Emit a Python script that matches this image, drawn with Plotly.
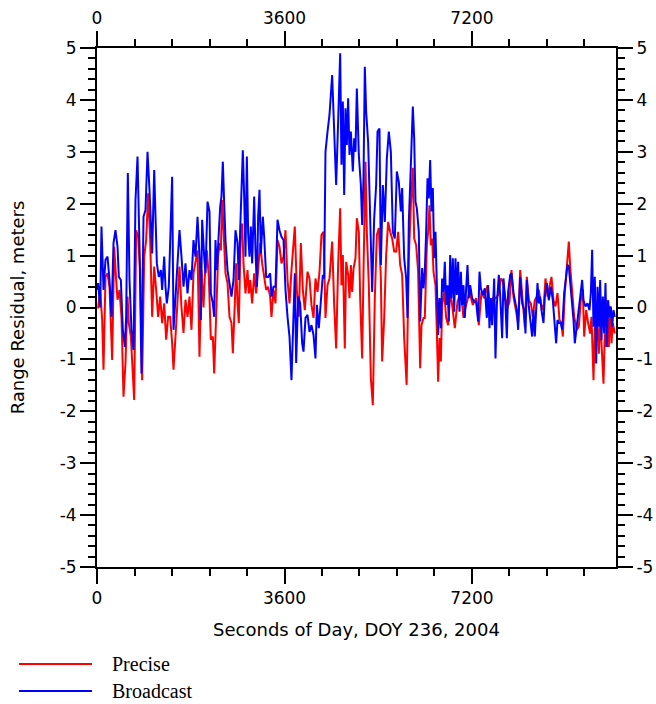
import plotly.graph_objects as go

# ---------------- data (seconds of day, range residual in meters) ----------------
precise_t = [5, 22, 61, 99, 125, 163, 202, 240, 291, 330, 368, 394, 432, 470, 509, 547, 586, 611, 650, 688,
             714, 752, 790, 829, 867, 906, 944, 982, 1021, 1059, 1098, 1136, 1174, 1213, 1251, 1290, 1328,
             1366, 1405, 1443, 1469, 1507, 1546, 1584, 1622, 1661, 1699, 1738, 1776, 1814, 1853, 1891, 1930,
             1968, 2006, 2045, 2070, 2109, 2147, 2186, 2224, 2250, 2288, 2326, 2352, 2378, 2403, 2429, 2467,
             2506, 2544, 2582, 2608, 2646, 2672, 2698, 2723, 2762, 2787, 2813, 2851, 2890, 2915, 2941, 2979,
             3018, 3056, 3094, 3133, 3171, 3210, 3248, 3286, 3325, 3350, 3389, 3427, 3466, 3504, 3542, 3581,
             3619, 3658, 3696, 3734, 3773, 3798, 3837, 3875, 3914, 3952, 3990, 4042, 4080, 4118, 4157, 4195,
             4234, 4272, 4310, 4349, 4387, 4426, 4464, 4515, 4554, 4592, 4630, 4669, 4694, 4720, 4758, 4784,
             4822, 4848, 4874, 4899, 4925, 4963, 4989, 5027, 5053, 5091, 5117, 5155, 5181, 5219, 5258, 5296,
             5334, 5373, 5411, 5450, 5475, 5514, 5552, 5590, 5629, 5667, 5706, 5744, 5782, 5821, 5859, 5898,
             5945, 5987, 6026, 6064, 6090, 6128, 6166, 6205, 6230, 6269, 6294, 6333, 6358, 6384, 6410, 6435,
             6461, 6499, 6525, 6550, 6576, 6602, 6627, 6666, 6704, 6742, 6781, 6819, 6870, 6922, 6986, 7037,
             7088, 7152, 7216, 7280, 7331, 7382, 7434, 7498, 7549, 7600, 7651, 7702, 7754, 7792, 7843, 7882,
             7920, 7958, 7997, 8035, 8086, 8125, 8163, 8214, 8253, 8291, 8330, 8368, 8406, 8445, 8483, 8522,
             8573, 8611, 8650, 8688, 8726, 8765, 8803, 8842, 8880, 8918, 8944, 8982, 9021, 9059, 9085, 9123,
             9162, 9213, 9251, 9290, 9328, 9354, 9392, 9430, 9469, 9494, 9533, 9558, 9584, 9610, 9635, 9661,
             9686, 9725, 9750, 9776, 9802, 9827, 9853, 9878, 9904, 9942]
precise_v = [0.0, 0.0, 0.34, -0.24, -1.2, 0.59, 0.66, 0.4, -1.01, 1.17, 0.53, 0.15, 0.34, -0.18, -1.72, -1.07,
             0.21, -0.3, -0.56, -1.33, -1.78, 1.49, 1.36, 0.72, -1.4, 0.98, 1.3, 2.2, 1.3, -0.18, 0.79, 0.34,
             -0.18, 0.21, -0.3, 0.08, -0.62, -0.18, -0.18, -0.69, -1.2, -0.56, 0.08, 0.79, 0.0, -0.49, 0.15,
             -0.18, 0.21, -0.43, 0.66, 0.92, 1.1, -0.95, 0.72, 0.0, 0.59, 1.1, 0.59, -0.62, -0.56, -1.27, -0.11,
             0.98, 1.24, 1.1, 2.07, 1.49, 0.66, 0.47, -0.18, -0.3, -0.88, 0.08, 0.85, 0.08, -0.3, 1.49, 1.62,
             0.85, 0.27, 0.72, 0.27, 0.53, 0.08, 0.66, 0.27, 0.72, 1.24, 0.85, 0.59, 0.34, 0.4, 0.21, -0.18, 0.34,
             0.08, 1.3, 1.17, 0.85, 0.98, 1.49, 0.53, 0.08, 0.72, 1.17, 1.56, 0.34, -0.18, 1.24, 0.34, -0.05,
             0.69, 0.56, 0.05, -0.2, 0.56, 0.3, 0.69, 1.4, 1.46, -0.2, 0.43, 0.56, 1.27, 0.05, -0.79, 0.82, 1.91,
             0.43, 1.01, -0.79, 0.88, 0.63, 0.18, 0.82, 0.3, 0.75, 0.95, 1.72, 1.46, 0.18, -0.98, 0.69, 2.81,
             1.46, 0.43, -1.36, -1.88, 0.18, 1.4, 1.53, 0.56, -1.04, -0.2, 1.01, 1.65, 1.46, 1.33, 1.08, 1.08,
             1.46, 0.82, 0.63, -0.59, -1.49, 0.95, 1.97, 2.69, 1.33, 1.2, 0.69, -1.17, -0.34, -0.2, -0.2, 1.2,
             1.46, 1.97, 1.2, 1.33, 0.69, 0.43, -0.47, -1.43, -0.59, -1.04, 0.05, 0.3, -0.2, -0.34, 0.3, 0.05,
             -0.4, 0.11, 0.3, -0.2, 0.05, 0.3, 0.05, 0.18, -0.34, 0.3, 0.18, 0.43, 0.0, 0.18, 0.18, 0.24, 0.56,
             0.5, 0.18, 0.0, 0.11, 0.72, 0.21, 0.02, -0.3, 0.72, 0.21, -0.37, 0.59, 0.14, 0.08, -0.18, 0.14,
             0.21, 0.34, 0.08, -0.05, 0.56, 0.21, 0.4, 0.59, 0.14, 0.02, 0.28, -0.24, -0.3, -0.56, 0.28, 0.79,
             1.27, 0.79, 0.28, -0.18, -0.43, -0.37, 0.14, 0.34, -0.56, -0.05, -0.3, -0.5, -0.18, -1.4, -0.37,
             -0.63, -0.37, -0.89, -0.18, -0.63, -1.47, -0.5, -0.76, 0.14, -0.76, 0.02, -0.69, -0.3, -0.5]

broadcast_t = [5, 22, 61, 86, 125, 163, 202, 240, 278, 317, 355, 394, 419, 458, 496, 534, 560, 592, 624, 662,
               701, 739, 778, 816, 854, 893, 931, 970, 1008, 1034, 1059, 1098, 1123, 1149, 1187, 1226, 1251,
               1290, 1315, 1341, 1379, 1418, 1443, 1469, 1507, 1546, 1584, 1622, 1661, 1699, 1738, 1776, 1814,
               1853, 1891, 1930, 1955, 1975, 1994, 2019, 2058, 2083, 2122, 2160, 2186, 2224, 2250, 2275, 2301,
               2339, 2365, 2390, 2416, 2442, 2467, 2506, 2544, 2582, 2621, 2659, 2698, 2723, 2749, 2774, 2800,
               2826, 2851, 2877, 2902, 2928, 2954, 2979, 3018, 3043, 3069, 3094, 3120, 3146, 3184, 3210, 3248,
               3286, 3325, 3350, 3389, 3427, 3466, 3504, 3542, 3581, 3619, 3658, 3696, 3734, 3773, 3798, 3824,
               3862, 3901, 3939, 3965, 4003, 4042, 4080, 4118, 4157, 4195, 4221, 4259, 4298, 4336, 4362, 4387,
               4426, 4464, 4515, 4554, 4592, 4630, 4669, 4694, 4720, 4746, 4771, 4797, 4822, 4848, 4874, 4912,
               4938, 4963, 4989, 5027, 5066, 5091, 5117, 5142, 5168, 5206, 5245, 5283, 5322, 5360, 5386, 5424,
               5450, 5488, 5526, 5565, 5603, 5642, 5680, 5718, 5757, 5795, 5834, 5859, 5898, 5936, 5962, 5987,
               6013, 6038, 6064, 6090, 6115, 6141, 6179, 6205, 6243, 6269, 6294, 6320, 6346, 6371, 6397, 6422,
               6448, 6474, 6499, 6525, 6550, 6576, 6602, 6627, 6653, 6678, 6704, 6730, 6755, 6781, 6806, 6832,
               6858, 6883, 6909, 6934, 6960, 6986, 7011, 7037, 7062, 7088, 7114, 7139, 7165, 7203, 7242, 7280,
               7318, 7344, 7370, 7408, 7446, 7485, 7510, 7536, 7562, 7587, 7626, 7651, 7677, 7715, 7741, 7779,
               7805, 7843, 7869, 7894, 7933, 7958, 7997, 8035, 8061, 8086, 8125, 8163, 8202, 8227, 8253, 8291,
               8330, 8355, 8381, 8406, 8432, 8458, 8483, 8509, 8534, 8573, 8598, 8637, 8675, 8714, 8752, 8790,
               8816, 8842, 8867, 8906, 8931, 8970, 9008, 9034, 9059, 9085, 9123, 9149, 9174, 9213, 9251, 9290,
               9315, 9341, 9379, 9418, 9456, 9482, 9507, 9533, 9558, 9584, 9610, 9635, 9661, 9686, 9712, 9738,
               9763, 9789, 9814, 9840, 9866, 9891, 9917, 9942]
broadcast_v = [0.34, 0.47, 0.0, 1.56, 0.34, 0.92, 0.98, 0.53, -0.18, 1.24, 1.49, 1.17, 0.59, 0.53, -0.43, -0.76,
               -0.18, 2.59, 0.53, -0.43, -0.82, 2.07, 2.91, 1.17, -1.27, 1.75, 1.88, 3.0, 2.26, 1.56, 1.04, 2.65,
               1.85, 0.85, 0.59, 0.72, 0.34, 0.98, 0.4, 0.08, 0.4, 1.49, 2.52, -0.43, 0.15, 0.72, 1.49, 0.98,
               0.4, 0.85, 0.27, 0.72, 0.53, 1.3, 0.98, 1.75, 1.36, 0.85, -0.24, 1.69, 0.98, 0.66, 2.04, 1.85, 0.27,
               0.08, -0.18, 1.3, 0.72, 1.43, 1.94, 2.14, 2.81, 2.01, 1.3, 0.72, 0.47, 0.21, 0.53, 1.49, 1.24, 0.53,
               1.49, 2.46, 3.03, 2.14, 0.98, 2.91, 1.43, 0.98, 1.56, 0.85, 2.14, 1.1, 0.4, 1.75, 2.27, 1.04, 1.75,
               1.36, 0.59, 0.59, 0.66, 0.21, 0.4, 0.4, 1.69, 1.49, 1.36, 1.3, 0.34, -0.18, -0.56, -1.4, 0.0, 0.66,
               -1.07, 0.21, 0.08, -0.69, -0.85, -0.2, -0.14, -0.47, -0.34, -0.53, -0.98, 0.05, -0.4, 0.18, 0.63,
               0.56, 3.0, 3.39, 3.71, 4.48, 3.26, 2.36, 3.58, 4.9, 2.75, 3.97, 2.17, 3.84, 3.13, 4.03, 2.94, 3.39,
               2.62, 3.26, 3.0, 4.22, 2.94, 2.36, 1.59, 2.49, 4.64, 3.77, 3.19, 1.46, 0.3, 1.72, 2.36, 3.39, 3.45,
               0.82, 2.36, 1.65, 2.87, 3.39, 3.0, 1.46, 1.33, 2.62, 2.42, 1.85, 2.3, 0.95, 0.56, -0.2, 1.65, 2.36,
               2.94, 3.87, 3.26, 2.04, 1.91, 1.46, -0.27, 0.76, 0.37, 0.69, 1.46, 2.49, 2.1, 2.84, 1.85, 2.3, 0.95,
               1.46, 0.43, -0.53, 0.18, -0.4, 0.56, 0.3, 0.88, 0.05, 0.43, -0.27, 1.01, 0.18, 0.95, -0.08, 0.95,
               0.24, 0.88, -0.08, 0.69, 0.05, 0.43, -0.2, 0.37, 0.82, 0.18, 0.43, 0.18, 0.11, 0.11, -0.27, 0.69,
               0.37, 0.24, 0.37, -0.2, 0.43, -0.4, 0.18, -0.34, 0.56, -0.98, 0.05, 0.63, 0.24, -0.59, 0.56, 0.05,
               -0.59, 0.3, 0.63, 0.66, 0.28, 0.08, -0.05, -0.43, 0.59, 0.08, -0.05, -0.5, 0.53, 0.02, -0.3, -0.56,
               -0.05, -0.56, -0.05, 0.47, 0.08, 0.21, -0.05, -0.3, 0.21, 0.47, 0.14, 0.4, 0.14, -0.37, -0.69,
               -0.24, -0.3, -0.3, -0.43, 0.28, 0.59, 0.82, 0.79, 0.53, 0.14, -0.24, -0.69, -0.37, -0.05, 0.21,
               0.53, 0.14, 0.02, 0.08, -0.05, 0.28, 1.11, -0.37, 0.59, -1.08, 0.4, -0.37, 0.53, -0.63, 0.21, -0.5,
               0.47, -0.76, 0.14, -0.18, 0.02, -0.37, -0.05, -0.18]

x_tick_vals = [0, 3600, 7200]
x_tick_text = ["0", "3600", "7200"]
y_tick_vals = [-5, -4, -3, -2, -1, 0, 1, 2, 3, 4, 5]
y_tick_text = ["-5", "-4", "-3", "-2", "-1", "0", "1", "2", "3", "4", "5"]
x_range = [0, 9965]
y_range = [-5, 5]

series_names = ["Precise", "Broadcast"]
series_colors = ["#ff0000", "#0000ff"]

# ---------------- figure ----------------
W, H = 656, 704
ML, MR, MT, MB = 97, 40, 48, 137

fig = go.Figure()
fig.add_trace(go.Scatter(x=precise_t, y=precise_v, mode="lines", name=series_names[0],
                         line=dict(color=series_colors[0], width=2), xaxis="x", yaxis="y"))
fig.add_trace(go.Scatter(x=broadcast_t, y=broadcast_v, mode="lines", name=series_names[1],
                         line=dict(color=series_colors[1], width=2), xaxis="x2", yaxis="y2"))

tickfont = dict(family="DejaVu Sans", size=17, color="black")
common_x = dict(range=x_range, tickvals=x_tick_vals, ticktext=x_tick_text, ticks="outside",
                ticklen=15, tickwidth=2, tickcolor="black", showline=True, linewidth=2,
                linecolor="black", showgrid=False, zeroline=False, tickfont=tickfont,
                automargin=False,
                minor=dict(dtick=720, tick0=0, ticks="outside", ticklen=7, tickwidth=2,
                           tickcolor="black", showgrid=False))
common_y = dict(range=y_range, tickvals=y_tick_vals, ticktext=y_tick_text, ticks="outside",
                ticklen=15, tickwidth=2, tickcolor="black", showline=True, linewidth=2,
                linecolor="black", showgrid=False, zeroline=False, tickfont=tickfont,
                automargin=False,
                minor=dict(dtick=0.2, tick0=0, ticks="outside", ticklen=7, tickwidth=2,
                           tickcolor="black", showgrid=False))

fig.update_layout(
    width=W, height=H,
    margin=dict(l=ML, r=MR, t=MT, b=MB, pad=0, autoexpand=False),
    plot_bgcolor="white", paper_bgcolor="white",
    showlegend=False,
    font=dict(family="DejaVu Sans", size=17, color="black"),
    xaxis=dict(**common_x, side="bottom",
               title=dict(text="Seconds of Day, DOY 236, 2004",
                          font=dict(family="DejaVu Sans", size=18, color="black"), standoff=16)),
    xaxis2=dict(**common_x, side="top", overlaying="x", anchor="y2"),
    yaxis=dict(**common_y, side="left",
               title=dict(text="Range Residual, meters",
                          font=dict(family="DejaVu Sans", size=18, color="black"), standoff=30)),
    yaxis2=dict(**common_y, side="right", overlaying="y", anchor="x2"),
)

# ---------------- manual legend below the plot ----------------
pw, ph = W - ML - MR, H - MT - MB


def px2paper(px, py):
    return (px - ML) / pw, (H - MB - py) / ph


legend_rows = [664, 691]
for name, color, row in zip(series_names, series_colors, legend_rows):
    x0, y0 = px2paper(19, row)
    x1, _ = px2paper(92, row)
    fig.add_shape(type="line", xref="paper", yref="paper", x0=x0, x1=x1, y0=y0, y1=y0,
                  line=dict(color=color, width=2))
    tx, ty = px2paper(110, row)
    fig.add_annotation(text=name, xref="paper", yref="paper", x=tx, y=ty, xanchor="left",
                       yanchor="middle", showarrow=False,
                       font=dict(family="Liberation Serif", size=20, color="black"))

fig.write_html("out.html")
